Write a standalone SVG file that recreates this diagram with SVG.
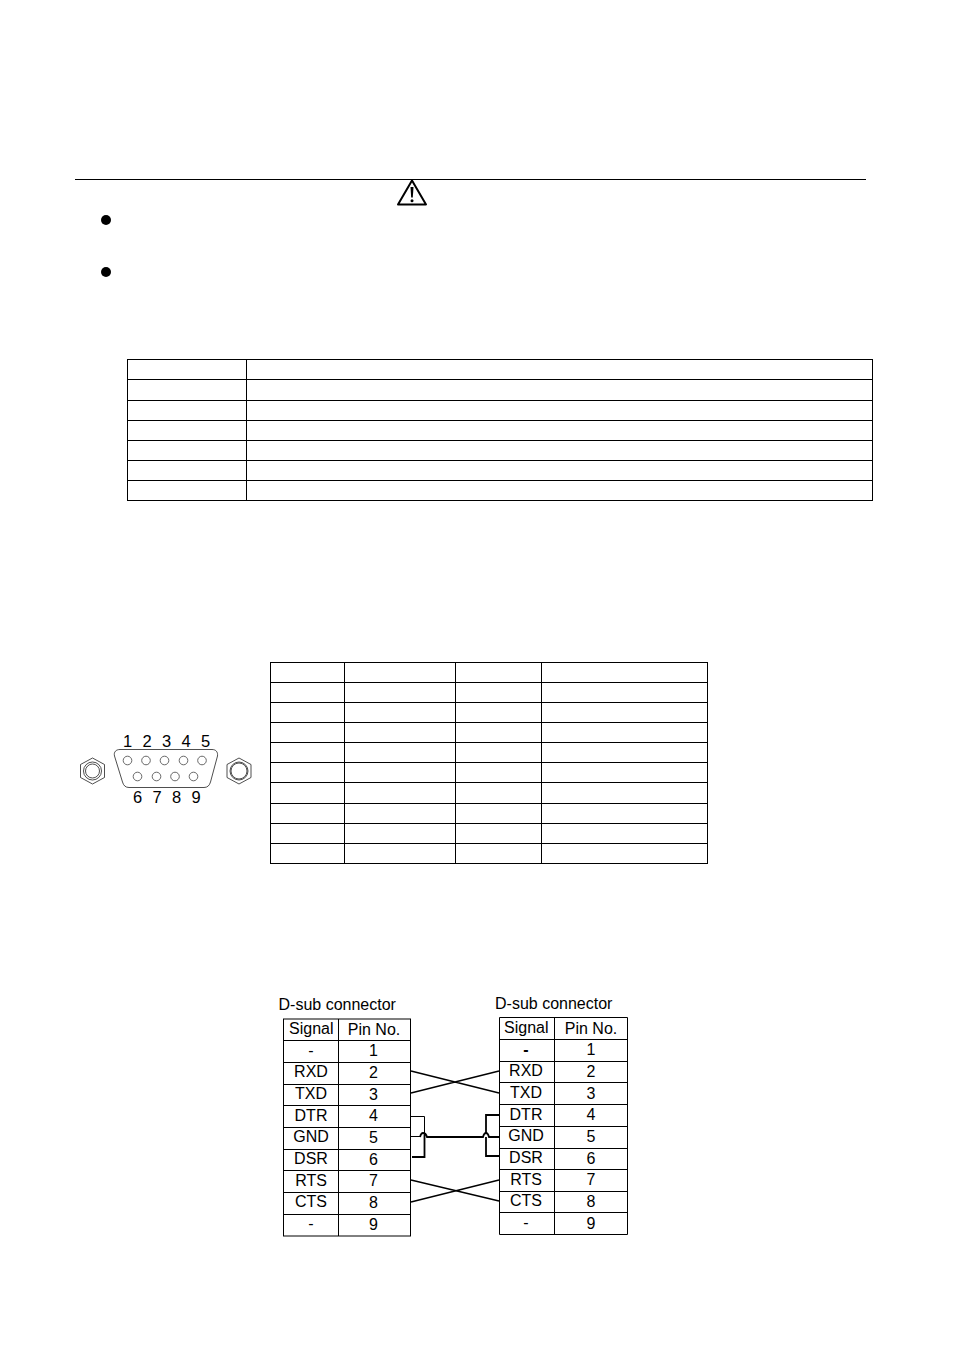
<svg xmlns="http://www.w3.org/2000/svg" width="954" height="1350" viewBox="0 0 954 1350">
<style>
.l{stroke:#000;stroke-width:1;fill:none}
.t{stroke:#222;stroke-width:.8;fill:none}
.h{stroke:#444;stroke-width:.8;fill:none}
.w{stroke:#000;stroke-width:1.3;fill:none}
.b{stroke:#000;stroke-width:1.8;fill:none}
text{font-family:"Liberation Sans",Arial,sans-serif;fill:#000;font-size:16px}
.m{text-anchor:middle}
.d{font-size:16.500px}
</style>
<rect width="954" height="1350" fill="#fff"/>
<g id="header">
<path class="l" d="M75 179.500H866"/>
<g id="warning-icon"><path d="M412 180.500L426 204.500H398Z" fill="#fff" stroke="#000" stroke-width="2" stroke-linejoin="round"/><path d="M410.500 187H413.500L412.800 197.500H411.200Z" fill="#000"/><circle cx="412" cy="200.800" r="1.500" fill="#000"/></g>
<circle id="bullet-1" cx="106" cy="220" r="5" fill="#000"/>
<circle id="bullet-2" cx="106" cy="272" r="5" fill="#000"/>
</g>
<g id="table-1">
<rect class="l" x="127.500" y="359.500" width="745" height="141"/>
<path class="l" d="M246.500 359.500V500.500M127.500 379.500H872.500M127.500 400.500H872.500M127.500 420.500H872.500M127.500 440.500H872.500M127.500 460.500H872.500M127.500 480.500H872.500"/>
</g>
<g id="table-2">
<rect class="l" x="270.500" y="662.500" width="437" height="201"/>
<path class="l" d="M344.500 662.500V863.500M455.500 662.500V863.500M541.500 662.500V863.500M270.500 682.500H707.500M270.500 702.500H707.500M270.500 722.500H707.500M270.500 742.500H707.500M270.500 762.500H707.500M270.500 782.500H707.500M270.500 803.500H707.500M270.500 823.500H707.500M270.500 843.500H707.500"/>
</g>
<g id="dsub-connector">
<path class="t" d="M120 749.500H212C216 749.500 218 752 217.500 756L210.500 782C209.500 785.500 207.500 787.500 204 787.500H129C125.500 787.500 123.500 785.500 122.500 782L114.500 756C113.500 752 116 749.500 120 749.500Z"/>
<circle class="h" cx="127.500" cy="760.500" r="4.300"/><circle class="h" cx="146" cy="760.500" r="4.300"/><circle class="h" cx="164.500" cy="760.500" r="4.300"/><circle class="h" cx="183.500" cy="760.500" r="4.300"/><circle class="h" cx="202" cy="760.500" r="4.300"/><circle class="h" cx="137.500" cy="776.500" r="4.300"/><circle class="h" cx="156.500" cy="776.500" r="4.300"/><circle class="h" cx="175" cy="776.500" r="4.300"/><circle class="h" cx="193.500" cy="776.500" r="4.300"/>
<g id="screw-left"><path class="t" d="M92.500 758L104.500 764.500V777.500L92.500 784L80.500 777.500V764.500Z"/><circle class="t" cx="92.500" cy="771" r="9"/><circle class="t" cx="92.500" cy="771" r="7"/></g>
<g id="screw-right"><path class="t" d="M239 758L251 764.500V777.500L239 784L227 777.500V764.500Z"/><circle class="t" cx="239" cy="771" r="9"/><circle class="t" cx="239" cy="771" r="8"/></g>
<text class="m d" x="127.500" y="746.500">1</text><text class="m d" x="147" y="746.500">2</text><text class="m d" x="166.500" y="746.500">3</text><text class="m d" x="186" y="746.500">4</text><text class="m d" x="205.500" y="746.500">5</text>
<text class="m d" x="137.500" y="802.500">6</text><text class="m d" x="157" y="802.500">7</text><text class="m d" x="176.500" y="802.500">8</text><text class="m d" x="196" y="802.500">9</text>
</g>
<g id="left-connector">
<text x="278.500" y="1010">D-sub connector</text>
<rect class="l" x="283.500" y="1019" width="127" height="217"/>
<path class="l" d="M338.500 1019V1236M283.500 1040.500H410.500M283.500 1062.500H410.500M283.500 1084.500H410.500M283.500 1105.500H410.500M283.500 1127.500H410.500M283.500 1149.500H410.500M283.500 1170.500H410.500M283.500 1192.500H410.500M283.500 1214.500H410.500"/>
<text x="289" y="1034">Signal</text><text class="m" x="374" y="1035">Pin No.</text>
<g text-anchor="middle">
<text x="311" y="1056">-</text><text x="373.500" y="1056">1</text>
<text x="311" y="1077">RXD</text><text x="373.500" y="1078">2</text>
<text x="311" y="1099">TXD</text><text x="373.500" y="1100">3</text>
<text x="311" y="1121">DTR</text><text x="373.500" y="1121">4</text>
<text x="311" y="1142">GND</text><text x="373.500" y="1143">5</text>
<text x="311" y="1164">DSR</text><text x="373.500" y="1165">6</text>
<text x="311" y="1186">RTS</text><text x="373.500" y="1186">7</text>
<text x="311" y="1207">CTS</text><text x="373.500" y="1208">8</text>
<text x="311" y="1229">-</text><text x="373.500" y="1230">9</text>
</g>
</g>
<g id="right-connector">
<text x="495" y="1009">D-sub connector</text>
<path class="l" d="M499.500 1017.500H627.500V1234.500H499.500ZM554.500 1017.500V1234.500M499.500 1039.500H627.500M499.500 1061.500H627.500M499.500 1082.500H627.500M499.500 1104.500H627.500M499.500 1126.500H627.500M499.500 1148.500H627.500M499.500 1169.500H627.500M499.500 1191.500H627.500M499.500 1212.500H627.500"/>
<text x="504" y="1033">Signal</text><text class="m" x="591" y="1034">Pin No.</text>
<g text-anchor="middle">
<text x="526" y="1055" font-weight="bold">-</text><text x="591" y="1055">1</text>
<text x="526" y="1076">RXD</text><text x="591" y="1077">2</text>
<text x="526" y="1098">TXD</text><text x="591" y="1099">3</text>
<text x="526" y="1120">DTR</text><text x="591" y="1120">4</text>
<text x="526" y="1141">GND</text><text x="591" y="1142">5</text>
<text x="526" y="1163">DSR</text><text x="591" y="1164">6</text>
<text x="526" y="1185">RTS</text><text x="591" y="1185">7</text>
<text x="526" y="1206">CTS</text><text x="591" y="1207">8</text>
<text x="526" y="1228">-</text><text x="591" y="1229">9</text>
</g>
</g>
<g id="connectors">
<path class="w" d="M411 1071L499 1093M411 1093L499 1071M411 1180L499 1201M411 1202L499 1180"/>
<path class="l" d="M411 1116.500H424.500V1133M411 1136.500H420"/>
<path class="b" d="M424.500 1133V1157H412M420 1137Q421 1133 423 1133Q426 1133 427 1137H483Q484 1133 486 1133Q488 1133 489 1137H499M486 1133V1115H499M486 1137V1156H499"/>
</g>
</svg>
